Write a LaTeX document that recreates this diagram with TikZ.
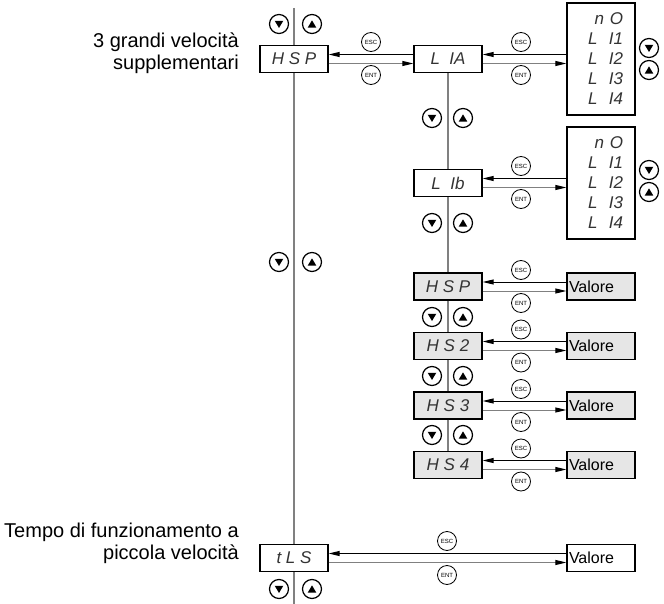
\documentclass[tikz,border=0pt]{standalone}
\usepackage{fontspec}
\setmainfont{Liberation Sans}
\newfontfamily\segfont{Liberation Sans}
\usetikzlibrary{arrows.meta, positioning, calc}
\definecolor{lcdgrey}{HTML}{E6E6E6}
\definecolor{wiregrey}{HTML}{808080}
\tikzset{
  >={Triangle[length=11pt, width=5pt]},
  disp/.style={rectangle, draw=black, line width=1.3pt, fill=white, minimum width=68pt, minimum height=27pt,
               inner sep=0pt, font=\segfont\itshape\fontsize{17}{17}\selectfont, text=black!80},
  dispg/.style={disp, fill=lcdgrey},
  listbox/.style={disp, minimum height=112pt, text width=44pt, align=right,
                  font=\segfont\itshape\fontsize{17}{20}\selectfont},
  valbox/.style={rectangle, draw=black, line width=1.3pt, fill=white, minimum width=68pt, minimum height=27pt,
                 text width=64pt, inner sep=2pt, align=left, font=\fontsize{16}{16}\selectfont},
  valg/.style={valbox, fill=lcdgrey},
  keyc/.style={circle, draw=black, line width=1.2pt, fill=white, minimum size=19pt, inner sep=0pt},
  keydn/.style={keyc, path picture={\fill[black] ([xshift=-4.3pt, yshift=3.2pt]path picture bounding box.center)
                -- ++(8.6pt,0pt) -- ++(-4.3pt,-7.2pt) -- cycle;}},
  keyup/.style={keyc, path picture={\fill[black] ([xshift=-4.3pt, yshift=-3.6pt]path picture bounding box.center)
                -- ++(8.6pt,0pt) -- ++(-4.3pt,7.2pt) -- cycle;}},
  keyt/.style={circle, draw=black, line width=0.8pt, fill=white, minimum size=19pt, inner sep=0pt,
               font=\fontsize{6}{6}\selectfont},
  esc/.style={->, line width=1pt, draw=black},
  ent/.style={-{Triangle[length=11pt, width=5pt, color=black]}, line width=1pt, draw=wiregrey},
  wire/.style={line width=1.2pt, draw=wiregrey},
  side/.style={align=right, inner sep=0pt, font=\fontsize{20}{22}\selectfont},
}
\begin{document}
\begin{tikzpicture}[x=1pt, y=-1pt]
  \useasboundingbox (0,0) rectangle (664,604);
  \node[side, anchor=east] (txa) at (239,53) {3 grandi velocità\\supplementari};
  \node[side, anchor=east] (txb) at (239,543) {Tempo di funzionamento a\\piccola velocità};

  \coordinate (mtop) at (294,8);
  \coordinate (mbot) at (294,604);
  \node[disp] (hsp) at (294,59) {H S P};
  \node[disp] (tls) at (294,558) {t L S};
  \draw[wire] (mtop) -- (hsp);
  \draw[wire] (hsp) -- (tls);
  \draw[wire] (tls) -- (mbot);
  \foreach \y in {24,262,589}{
    \node[keydn] at (279,\y) {};
    \node[keyup] at (312,\y) {};
  }

  \node[disp] (lia) at (448,59) {L~~IA};
  \node[disp] (lib) at (448,183) {L~~Ib};
  \node[listbox] (lsa) at (601,59) {n~O\\L~~I1\\L~~I2\\L~~I3\\L~~I4};
  \node[listbox] (lsb) at (601,183) {n~O\\L~~I1\\L~~I2\\L~~I3\\L~~I4};
  \foreach \y in {48,170}{ \node[keydn] at (649,\y) {}; }
  \foreach \y in {70,192}{ \node[keyup] at (649,\y) {}; }

  \draw[esc] ([yshift=4.5pt]lia.west) -- ([yshift=4.5pt]hsp.east);
  \draw[ent] ([yshift=-4.5pt]hsp.east) -- ([yshift=-4.5pt]lia.west);
  \node[keyt] (esca) at (371,42) {ESC};
  \node[keyt] (enta) at (371,75) {ENT};
  \foreach \a/\b in {lia/lsa, lib/lsb}{
    \draw[esc] ([yshift=4.5pt]\b.west) -- ([yshift=4.5pt]\a.east);
    \draw[ent] ([yshift=-4.5pt]\a.east) -- ([yshift=-4.5pt]\b.west);
  }
  \node[keyt] (escb) at (521,42) {ESC};
  \node[keyt] (entb) at (521,75) {ENT};
  \node[keyt] (escc) at (521,166) {ESC};
  \node[keyt] (entc) at (521,199) {ENT};

  \foreach \n/\t [count=\i] in {hsq/{H S P}, hs2/{H S 2}, hs3/{H S 3}, hs4/{H S 4}}{
    \node[dispg] (\n) at (448,{286.5+59.5*(\i-1)}) {\t};
    \node[valg] (v\n) at (601,{286.5+59.5*(\i-1)}) {Valore};
    \draw[esc] ([yshift=4.5pt]v\n.west) -- ([yshift=4.5pt]\n.east);
    \draw[ent] ([yshift=-4.5pt]\n.east) -- ([yshift=-4.5pt]v\n.west);
    \node[keyt] (esc\n) at (521,{270+59.5*(\i-1)}) {ESC};
    \node[keyt] (ent\n) at (521,{303+59.5*(\i-1)}) {ENT};
  }
  \foreach \a/\b in {lia/lib, lib/hsq, hsq/hs2, hs2/hs3, hs3/hs4}{ \draw[wire] (\a) -- (\b); }
  \foreach \y in {118,223,317,376,435}{
    \node[keydn] at (432,\y) {};
    \node[keyup] at (463,\y) {};
  }

  \node[valbox] (vtls) at (601,558) {Valore};
  \draw[esc] ([yshift=4.5pt]vtls.west) -- ([yshift=4.5pt]tls.east);
  \draw[ent] ([yshift=-4.5pt]tls.east) -- ([yshift=-4.5pt]vtls.west);
  \node[keyt] (esctl) at (447,541) {ESC};
  \node[keyt] (enttl) at (447,575) {ENT};
\end{tikzpicture}
\end{document}
